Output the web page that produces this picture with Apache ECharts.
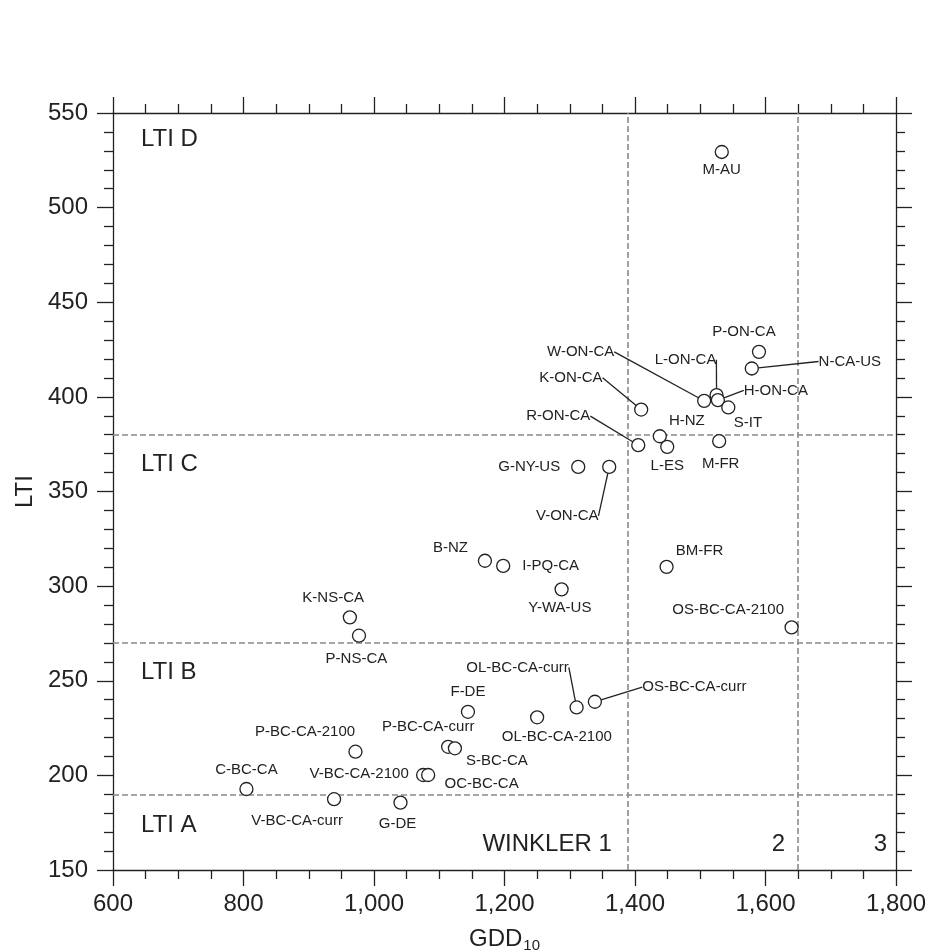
<!DOCTYPE html>
<html>
<head>
<meta charset="utf-8">
<script src="https://cdn.jsdelivr.net/npm/echarts@6/dist/echarts.min.js"></script>
<style>
html,body{margin:0;padding:0;background:#fff;}
#chart{width:944px;height:952px;}
</style>
</head>
<body>
<div id="chart"></div>
<script>
// ---- data ----
const siteNames = ['M-AU','P-ON-CA','N-CA-US','W-ON-CA','L-ON-CA','H-ON-CA','S-IT','K-ON-CA','R-ON-CA','H-NZ','L-ES','M-FR','G-NY-US','V-ON-CA','B-NZ','I-PQ-CA','Y-WA-US','BM-FR','OS-BC-CA-2100','K-NS-CA','P-NS-CA','F-DE','OL-BC-CA-curr','OS-BC-CA-curr','OL-BC-CA-2100','P-BC-CA-2100','P-BC-CA-curr','S-BC-CA','V-BC-CA-2100','OC-BC-CA','C-BC-CA','V-BC-CA-curr','G-DE'];
const gdd10 = [1533,1590,1579,1506,1525,1527,1543,1409.5,1405,1438,1449.4,1529,1313,1360.5,1170,1198,1287.5,1448.4,1640,963,977,1144,1310.5,1338.5,1250,971.6,1113.6,1124,1075.3,1083,804.5,938.8,1040.6];
const ltiValues = [529.4,423.8,415,397.9,400.9,398.3,394.4,393.3,374.5,379.2,373.6,376.6,363,363,313.4,310.7,298.3,310.2,278.2,283.5,273.8,233.6,235.9,238.9,230.7,212.5,215.1,214.3,200.2,200.2,192.8,187.4,185.6];
const xTicks = [600,800,1000,1200,1400,1600,1800];
const yTicks = [150,200,250,300,350,400,450,500,550];
const ltiZoneNames = ['LTI D','LTI C','LTI B','LTI A'];
const ltiBounds = [550,380,270,190,150];
const winklerNames = ['WINKLER 1','2','3'];
const winklerBounds = [600,1389,1650,1800];

// ---- label placement (pixel offsets from symbol centre) ----
const labelOffsets = {
  'M-AU':[0,18],'P-ON-CA':[-15,-20],'N-CA-US':[98,-7],'W-ON-CA':[-123.5,-49],
  'L-ON-CA':[-31,-35.5],'H-ON-CA':[58,-9.7],'S-IT':[19.7,15.4],'K-ON-CA':[-70.3,-31.8],
  'R-ON-CA':[-80,-29],'H-NZ':[27,-15],'L-ES':[0,19.5],'M-FR':[1.5,23],
  'G-NY-US':[-49,0],'V-ON-CA':[-42,49],'B-NZ':[-34.5,-13],'I-PQ-CA':[47.5,0],
  'Y-WA-US':[-1.7,19],'BM-FR':[33,-16],'OS-BC-CA-2100':[-63.4,-18],'K-NS-CA':[-16.7,-19],
  'P-NS-CA':[-2.6,23.5],'F-DE':[0,-19.5],'OL-BC-CA-curr':[-59,-40],'OS-BC-CA-curr':[99.5,-14.7],
  'OL-BC-CA-2100':[19.7,20],'P-BC-CA-2100':[-50.4,-19.7],'P-BC-CA-curr':[-20,-20],'S-BC-CA':[42,12.5],
  'V-BC-CA-2100':[-64,-1],'OC-BC-CA':[53.4,8.7],'C-BC-CA':[0,-18.7],'V-BC-CA-curr':[-37,22],'G-DE':[-3,21]
};
const leaderLabels = ['W-ON-CA','L-ON-CA','H-ON-CA','N-CA-US','K-ON-CA','R-ON-CA','V-ON-CA','OL-BC-CA-curr','OS-BC-CA-curr'];
const ltiLabelOffsets = [[28,14],[28,18],[28,17],[28,19]];
const winklerLabelOffsets = [[-16,-14],[-13,-14],[-9,-14]];

const FONT = 'Liberation Sans, Arial, Helvetica, sans-serif';
const INK = '#222';

const points = siteNames.map((n,i)=>({
  name:n,
  value:[gdd10[i], ltiValues[i]],
  labelLine:{show: leaderLabels.indexOf(n) >= 0}
}));

const fmt = v => v.toLocaleString('en-US');

function axisCommon(showLabel, margin, minorSplit){
  return {
    axisLine:{show:true,onZero:false,lineStyle:{color:INK,width:1.3}},
    axisTick:{show:true,inside:false,length:16,lineStyle:{color:INK,width:1.3}},
    minorTick:{show:true,splitNumber:minorSplit,length:9,lineStyle:{color:INK,width:1.3}},
    splitLine:{show:false},
    minorSplitLine:{show:false},
    axisLabel:{show:showLabel,fontSize:24,color:INK,fontFamily:FONT,formatter:fmt,margin:margin}
  };
}

const ltiAreas = ltiZoneNames.map((n,i)=>[
  {name:n,yAxis:ltiBounds[i+1],label:{position:'insideTopLeft',offset:ltiLabelOffsets[i]}},
  {yAxis:ltiBounds[i]}
]);
const winklerAreas = winklerNames.map((n,i)=>[
  {name:n,xAxis:winklerBounds[i],label:{position:'insideBottomRight',offset:winklerLabelOffsets[i]}},
  {xAxis:winklerBounds[i+1]}
]);

const chart = echarts.init(document.getElementById('chart'), null, {renderer:'canvas'});
chart.setOption({
  animation:false,
  backgroundColor:'#fff',
  grid:{left:113,right:48,top:113,bottom:82,containLabel:false,outerBoundsMode:'none'},
  xAxis:[
    Object.assign({type:'value',position:'bottom',min:xTicks[0],max:xTicks[xTicks.length-1],interval:200,
      name:'{a|GDD}{b|10}',nameLocation:'middle',nameGap:56,
      nameTextStyle:{rich:{a:{fontSize:24,fontFamily:FONT,color:INK},b:{fontSize:15,fontFamily:FONT,color:INK,padding:[12,0,0,1]}}}
    }, axisCommon(true,22,4)),
    Object.assign({type:'value',position:'top',min:xTicks[0],max:xTicks[xTicks.length-1],interval:200},
      axisCommon(false,8,4))
  ],
  yAxis:[
    Object.assign({type:'value',position:'left',min:yTicks[0],max:yTicks[yTicks.length-1],interval:50,
      name:'LTI',nameLocation:'middle',nameGap:66,nameRotate:90,
      nameTextStyle:{fontSize:24,fontFamily:FONT,color:INK}
    }, axisCommon(true,25,5)),
    Object.assign({type:'value',position:'right',min:yTicks[0],max:yTicks[yTicks.length-1],interval:50},
      axisCommon(false,8,5))
  ],
  series:[{
    type:'scatter',
    xAxisIndex:0,yAxisIndex:0,
    symbol:'circle',
    symbolSize:13,
    itemStyle:{color:'#fff',borderColor:INK,borderWidth:1.3,opacity:1},
    label:{show:true,position:'inside',formatter:'{b}',fontSize:15,fontFamily:FONT,color:INK,
      align:'center',verticalAlign:'middle',textBorderWidth:0},
    labelLine:{show:false,length2:0,smooth:false,lineStyle:{color:INK,width:1.3}},
    labelLayout:function(p){
      const o = labelOffsets[siteNames[p.dataIndex]] || [0,0];
      return {dx:o[0],dy:o[1]};
    },
    emphasis:{disabled:true},
    data:points,
    z:5,
    markLine:{
      silent:true,symbol:['none','none'],animation:false,
      label:{show:false},
      lineStyle:{type:[6,3],color:'#8a8a8a',width:1.6},
      data:[
        {xAxis:winklerBounds[1]},{xAxis:winklerBounds[2]},
        {yAxis:ltiBounds[1]},{yAxis:ltiBounds[2]},{yAxis:ltiBounds[3]}
      ]
    },
    markArea:{
      silent:true,animation:false,
      itemStyle:{color:'rgba(0,0,0,0)'},
      label:{show:true,fontSize:24,fontFamily:FONT,color:INK,distance:0},
      data:ltiAreas.concat(winklerAreas)
    }
  }]
});
</script>
</body>
</html>
